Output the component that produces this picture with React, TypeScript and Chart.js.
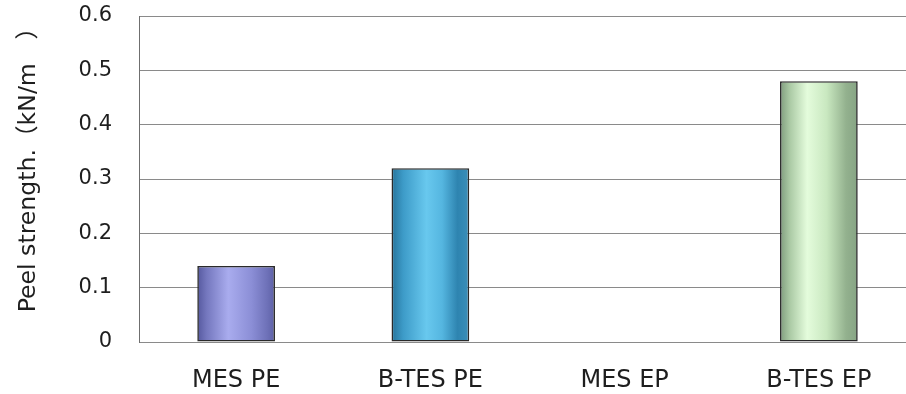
import React, { useEffect, useRef } from "react";
import { Chart, registerables } from "chart.js";

Chart.register(...registerables);

// Peel strength by sample
const categories = ["MES PE", "B-TES PE", "MES EP", "B-TES EP"];
const peelStrength = [0.14, 0.32, 0, 0.48];
const yTickLabels = ["0", "0.1", "0.2", "0.3", "0.4", "0.5", "0.6"];
const yTitle = "Peel strength.（kN/m　）";

// Cylinder shading per bar: [offset, colour] stops across the bar width
const barShades: [number, string][][] = [
  [
    [0, "#55589e"],
    [0.12, "#7477be"],
    [0.4, "#a9acee"],
    [0.7, "#8b8ed6"],
    [0.9, "#6e71b8"],
    [1, "#5d60a6"],
  ],
  [
    [0, "#26739a"],
    [0.15, "#3d9bc8"],
    [0.45, "#68c8ee"],
    [0.65, "#55b6e0"],
    [0.85, "#2e84b0"],
    [1, "#3a8fba"],
  ],
  [
    [0, "#888888"],
    [1, "#888888"],
  ],
  [
    [0, "#7f9c7d"],
    [0.12, "#a9c8a3"],
    [0.35, "#e4fcdc"],
    [0.6, "#c9e8c0"],
    [0.85, "#93b18e"],
    [1, "#86a484"],
  ],
];

const BAR_FRACTION = 0.8 * 0.5;

export default function App() {
  const canvasRef = useRef<HTMLCanvasElement | null>(null);

  useEffect(() => {
    document.body.style.margin = "0";
    const canvas = canvasRef.current;
    if (!canvas) return;

    const chart = new Chart(canvas, {
      type: "bar",
      data: {
        labels: categories,
        datasets: [
          {
            data: peelStrength,
            barPercentage: 0.8,
            categoryPercentage: 0.5,
            borderColor: "#2a2a2a",
            borderWidth: (ctx: any) => (ctx.raw ? 1.6 : 0),
            borderSkipped: false,
            backgroundColor: (ctx: any) => {
              const c = ctx.chart;
              const i = ctx.dataIndex ?? 0;
              const stops = barShades[i] || barShades[0];
              if (!c.chartArea || !c.scales.x) return stops[2][1];
              const cx = c.scales.x.getPixelForValue(i);
              const half = ((c.chartArea.width / categories.length) * BAR_FRACTION) / 2;
              const g = c.ctx.createLinearGradient(cx - half, 0, cx + half, 0);
              stops.forEach(([o, col]) => g.addColorStop(o, col));
              return g;
            },
          },
        ],
      },
      options: {
        responsive: false,
        animation: false,
        events: [],
        layout: { padding: { left: 0, right: 14, top: 16, bottom: 0 } },
        plugins: {
          legend: { display: false },
          tooltip: { enabled: false },
        },
        scales: {
          x: {
            grid: { display: false, drawTicks: false },
            border: { display: false },
            ticks: {
              color: "#1e1e1e",
              padding: 24,
              font: { family: "'DejaVu Sans', sans-serif", size: 24 },
            },
            afterFit: (scale: any) => {
              scale.height = 52;
              scale.paddingLeft = 0;
              scale.paddingRight = 0;
            },
          },
          y: {
            min: 0,
            max: 0.6,
            grid: { color: "#8a8a8a", lineWidth: 1, drawTicks: false },
            border: { display: true, color: "#6f6f6f", width: 1 },
            ticks: {
              stepSize: 0.1,
              color: "#1e1e1e",
              padding: 27,
              font: { family: "'DejaVu Sans', sans-serif", size: 21 },
              callback: (_v: any, idx: number) => yTickLabels[idx],
            },
            title: {
              display: true,
              text: yTitle,
              align: "end",
              color: "#1e1e1e",
              padding: { top: 15, bottom: 0 },
              font: {
                family: "'DejaVu Sans', 'Noto Sans CJK JP', sans-serif",
                size: 23.6,
              },
            },
            afterFit: (scale: any) => {
              scale.width = 139;
              scale.paddingTop = 0;
              scale.paddingBottom = 0;
            },
          },
        },
      },
    });

    return () => chart.destroy();
  }, []);

  return (
    <div
      style={{
        position: "fixed",
        left: 0,
        top: 0,
        width: 906,
        height: 394,
        overflow: "hidden",
        background: "#fff",
      }}
    >
      <canvas ref={canvasRef} width={930} height={394} />
    </div>
  );
}
